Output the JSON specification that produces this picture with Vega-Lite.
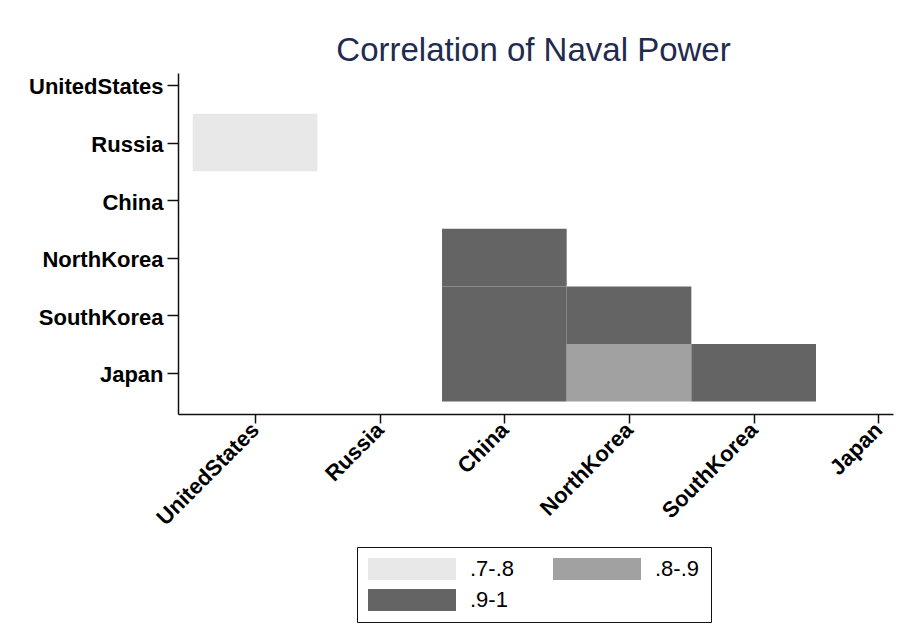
{
  "$schema": "https://vega.github.io/schema/vega-lite/v6.json",
  "width": 715,
  "height": 341,
  "autosize": {"type": "none"},
  "padding": {"left": 178, "top": 73, "right": 23, "bottom": 225},
  "background": "white",
  "config": {"view": {"stroke": null}, "font": "Liberation Sans"},
  "title": {
    "text": "Correlation of Naval Power",
    "font": "Liberation Sans",
    "fontSize": 33,
    "fontWeight": "normal",
    "color": "#1f2b4f",
    "anchor": "middle",
    "frame": "group",
    "baseline": "alphabetic",
    "offset": -21,
    "dx": -2
  },
  "data": {
    "values": [
      {"col": "UnitedStates", "row": "Russia", "r": ".7-.8"},
      {"col": "China", "row": "NorthKorea", "r": ".9-1"},
      {"col": "China", "row": "SouthKorea", "r": ".9-1"},
      {"col": "NorthKorea", "row": "SouthKorea", "r": ".9-1"},
      {"col": "China", "row": "Japan", "r": ".9-1"},
      {"col": "NorthKorea", "row": "Japan", "r": ".8-.9"},
      {"col": "SouthKorea", "row": "Japan", "r": ".9-1"}
    ]
  },
  "mark": {
    "type": "point",
    "shape": "M-1,-0.4616H1V0.4616H-1Z",
    "size": 15540,
    "filled": true,
    "opacity": 1,
    "strokeWidth": 0
  },
  "encoding": {
    "x": {
      "field": "col",
      "type": "nominal",
      "sort": null,
      "scale": {
        "type": "point",
        "domain": ["UnitedStates", "Russia", "China", "NorthKorea", "SouthKorea", "Japan"],
        "padding": 0.3679,
        "align": 0.84,
        "round": false
      },
      "axis": {
        "title": null,
        "labelAngle": -45,
        "labelAlign": "right",
        "labelBaseline": "middle",
        "labelFont": "Liberation Sans",
        "labelFontSize": 22,
        "labelFontWeight": "bold",
        "labelColor": "black",
        "labelPadding": 3,
        "labelOverlap": false,
        "labelBound": false,
        "tickSize": 9,
        "tickColor": "#111",
        "tickWidth": 1.5,
        "domainColor": "#111",
        "domainWidth": 1.5,
        "grid": false
      }
    },
    "y": {
      "field": "row",
      "type": "nominal",
      "sort": null,
      "scale": {
        "type": "point",
        "domain": ["UnitedStates", "Russia", "China", "NorthKorea", "SouthKorea", "Japan"],
        "padding": 0.4631,
        "align": 0.225,
        "round": false
      },
      "axis": {
        "title": null,
        "labelFont": "Liberation Sans",
        "labelFontSize": 22,
        "labelFontWeight": "bold",
        "labelColor": "black",
        "labelPadding": 4,
        "labelOffset": 2,
        "labelOverlap": false,
        "labelBound": false,
        "labelAlign": "right",
        "labelBaseline": "middle",
        "tickSize": 11,
        "tickColor": "#111",
        "tickWidth": 1.5,
        "domainColor": "#111",
        "domainWidth": 1.5,
        "grid": false
      }
    },
    "color": {
      "field": "r",
      "type": "nominal",
      "scale": {
        "domain": [".7-.8", ".8-.9", ".9-1"],
        "range": ["#e8e8e8", "#a1a1a1", "#646464"]
      },
      "legend": {
        "title": null,
        "orient": "none",
        "legendX": 179,
        "legendY": 474,
        "columns": 2,
        "direction": "horizontal",
        "symbolType": "M-4,-1H4V1H-4Z",
        "symbolSize": 484,
        "symbolOffset": 33,
        "symbolStrokeWidth": 0,
        "symbolOpacity": 1,
        "labelFont": "Liberation Sans",
        "labelFontSize": 22,
        "labelColor": "black",
        "labelOffset": 47,
        "labelLimit": 300,
        "columnPadding": 38,
        "rowPadding": 9,
        "padding": 11,
        "strokeColor": "#111",
        "fillColor": "white"
      }
    }
  }
}
